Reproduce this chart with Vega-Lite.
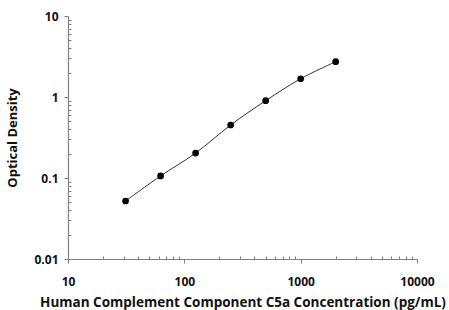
{
  "$schema": "https://vega.github.io/schema/vega-lite/v6.json",
  "width": 349,
  "height": 243,
  "autosize": {"type": "none"},
  "padding": {"left": 68, "top": 16, "right": 32, "bottom": 51},
  "background": "white",
  "config": {
    "view": {"stroke": null},
    "font": "Open Sans",
    "axis": {
      "grid": false,
      "domainColor": "#808080",
      "domainWidth": 1.2,
      "tickColor": "#808080",
      "tickWidth": 1,
      "labelFont": "Open Sans",
      "labelFontWeight": "bold",
      "labelFontSize": 12,
      "labelColor": "#111",
      "titleFont": "Open Sans",
      "titleFontWeight": "bold",
      "titleFontSize": 13,
      "titleColor": "#111"
    }
  },
  "data": {
    "values": [
      {"conc": 31.25, "od": 0.052},
      {"conc": 62.5, "od": 0.106},
      {"conc": 125, "od": 0.203},
      {"conc": 250, "od": 0.451},
      {"conc": 500, "od": 0.90},
      {"conc": 1000, "od": 1.68},
      {"conc": 2000, "od": 2.73}
    ]
  },
  "encoding": {
    "x": {
      "field": "conc",
      "type": "quantitative",
      "scale": {"type": "log", "domain": [10, 10000], "nice": false},
      "axis": {
        "title": "Human Complement Component C5a Concentration (pg/mL)",
        "titleFontSize": 13.5,
        "values": [10,20,30,40,50,60,70,80,90,100,200,300,400,500,600,700,800,900,1000,2000,3000,4000,5000,6000,7000,8000,9000,10000],
        "labelExpr": "indexof([10,100,1000,10000], datum.value) >= 0 ? format(datum.value, 'd') : ''",
        "tickSize": {"condition": {"test": "indexof([10,100,1000,10000], datum.value) >= 0", "value": 4}, "value": -3},
        "labelPadding": 13,
        "titlePadding": 8,
        "labelFlush": false,
        "labelOverlap": false
      }
    },
    "y": {
      "field": "od",
      "type": "quantitative",
      "scale": {"type": "log", "domain": [0.01, 10], "nice": false},
      "axis": {
        "title": "Optical Density",
        "values": [0.01,0.02,0.03,0.04,0.05,0.06,0.07,0.08,0.09,0.1,0.2,0.3,0.4,0.5,0.6,0.7,0.8,0.9,1,2,3,4,5,6,7,8,9,10],
        "labelExpr": "indexof([0.01,0.1,1,10], datum.value) >= 0 ? format(datum.value, '') : ''",
        "tickSize": {"condition": {"test": "indexof([0.01,0.1,1,10], datum.value) >= 0", "value": 4}, "value": -3},
        "labelPadding": 6,
        "titlePadding": 14,
        "labelFlush": false,
        "labelOverlap": false
      }
    }
  },
  "layer": [
    {"mark": {"type": "line", "interpolate": "catmull-rom", "color": "#333", "strokeWidth": 1}},
    {"mark": {"type": "point", "filled": true, "color": "#000", "size": 45, "opacity": 1}}
  ]
}
